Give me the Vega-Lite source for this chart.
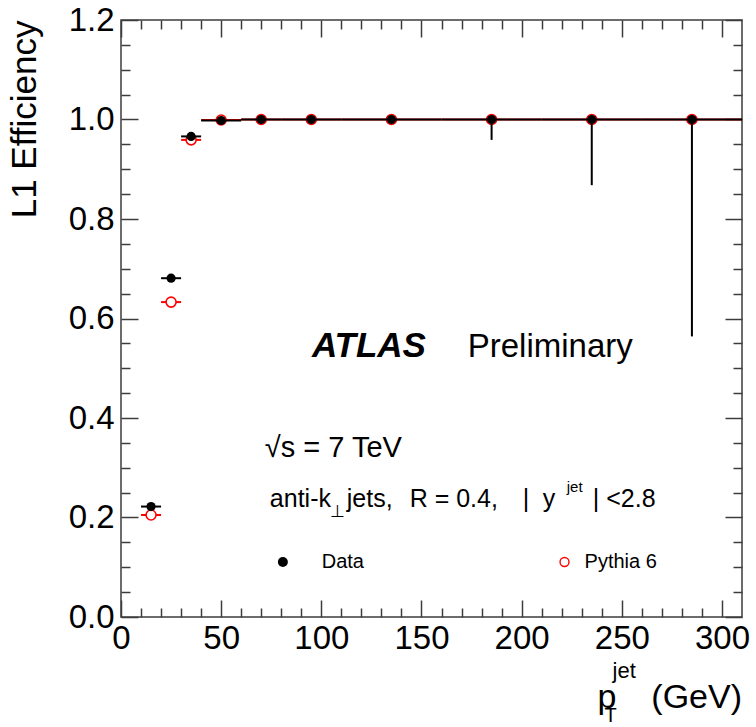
{
  "$schema": "https://vega.github.io/schema/vega-lite/v6.json",
  "width": 621,
  "height": 597,
  "autosize": "none",
  "padding": {"left": 121, "top": 20, "right": 14, "bottom": 110},
  "background": "white",
  "config": {
    "view": {"stroke": "#3c3c3c", "strokeWidth": 1.5},
    "axis": {"domain": false, "grid": false, "tickColor": "#3c3c3c", "tickWidth": 1.5, "labelFont": "Liberation Sans", "labelFontSize": 33, "labelColor": "black", "titleFont": "Liberation Sans", "titleColor": "black", "labelFlush": false, "labelOverlap": false},
    "text": {"font": "Liberation Sans", "color": "black"}
  },
  "datasets": {
    "eff": [
      {"pt": 15, "lo": 10, "hi": 20, "data": 0.222, "data_lo": 0.222, "pythia": 0.205},
      {"pt": 25, "lo": 20, "hi": 30, "data": 0.681, "data_lo": 0.681, "pythia": 0.633},
      {"pt": 35, "lo": 30, "hi": 40, "data": 0.966, "data_lo": 0.966, "pythia": 0.959},
      {"pt": 50, "lo": 40, "hi": 60, "data": 0.998, "data_lo": 0.998, "pythia": 0.999},
      {"pt": 70, "lo": 60, "hi": 80, "data": 1.0, "data_lo": 1.0, "pythia": 1.0},
      {"pt": 95, "lo": 80, "hi": 110, "data": 1.0, "data_lo": 1.0, "pythia": 1.0},
      {"pt": 135, "lo": 110, "hi": 160, "data": 1.0, "data_lo": 1.0, "pythia": 1.0},
      {"pt": 185, "lo": 160, "hi": 210, "data": 1.0, "data_lo": 0.959, "pythia": 1.0},
      {"pt": 235, "lo": 210, "hi": 260, "data": 1.0, "data_lo": 0.868, "pythia": 1.0},
      {"pt": 285, "lo": 260, "hi": 310, "data": 1.0, "data_lo": 0.564, "pythia": 1.0}
    ]
  },
  "data": {"name": "eff"},
  "resolve": {"axis": {"x": "independent", "y": "independent"}},
  "layer": [
    {
      "mark": {"type": "rule", "color": "red", "strokeWidth": 2},
      "encoding": {
        "x": {"field": "lo", "type": "quantitative", "scale": {"domain": [0, 310], "nice": false},
          "axis": {"orient": "bottom", "values": [0, 50, 100, 150, 200, 250, 300], "offset": -17, "tickSize": 17, "labelPadding": 5, "title": null}},
        "x2": {"field": "hi"},
        "y": {"field": "pythia", "type": "quantitative", "scale": {"domain": [0, 1.2], "nice": false},
          "axis": {"orient": "left", "values": [0, 0.2, 0.4, 0.6, 0.8, 1.0, 1.2], "offset": -17, "tickSize": 17, "labelPadding": 7, "format": ".1f",
            "title": "L1 Efficiency", "titleFontSize": 35, "titleFontWeight": "normal", "titleAnchor": "end", "titleX": -96, "titleBaseline": "bottom"}}
      }
    },
    {
      "mark": {"type": "point", "shape": "circle", "fill": "white", "stroke": "red", "strokeWidth": 1.6, "size": 100, "opacity": 1},
      "encoding": {
        "x": {"field": "pt", "type": "quantitative", "scale": {"domain": [0, 310], "nice": false},
          "axis": {"orient": "bottom", "values": [10, 20, 30, 40, 60, 70, 80, 90, 110, 120, 130, 140, 160, 170, 180, 190, 210, 220, 230, 240, 260, 270, 280, 290], "offset": -9, "tickSize": 9, "labels": false, "title": null}},
        "y": {"field": "pythia", "type": "quantitative", "scale": {"domain": [0, 1.2], "nice": false},
          "axis": {"orient": "left", "values": [0.05, 0.1, 0.15, 0.25, 0.3, 0.35, 0.45, 0.5, 0.55, 0.65, 0.7, 0.75, 0.85, 0.9, 0.95, 1.05, 1.1, 1.15], "offset": -9, "tickSize": 9, "labels": false, "title": null}}
      }
    },
    {
      "mark": {"type": "rule", "color": "black", "strokeWidth": 2},
      "encoding": {
        "x": {"field": "lo", "type": "quantitative", "scale": {"domain": [0, 310], "nice": false},
          "axis": {"orient": "top", "values": [0, 50, 100, 150, 200, 250, 300], "offset": -17, "tickSize": 17, "labels": false, "title": null}},
        "x2": {"field": "hi"},
        "y": {"field": "data", "type": "quantitative", "scale": {"domain": [0, 1.2], "nice": false},
          "axis": {"orient": "right", "values": [0, 0.2, 0.4, 0.6, 0.8, 1.0, 1.2], "offset": -17, "tickSize": 17, "labels": false, "title": null}}
      }
    },
    {
      "mark": {"type": "rule", "color": "black", "strokeWidth": 2},
      "encoding": {
        "x": {"field": "pt", "type": "quantitative", "scale": {"domain": [0, 310], "nice": false},
          "axis": {"orient": "top", "values": [10, 20, 30, 40, 60, 70, 80, 90, 110, 120, 130, 140, 160, 170, 180, 190, 210, 220, 230, 240, 260, 270, 280, 290], "offset": -9, "tickSize": 9, "labels": false, "title": null}},
        "y": {"field": "data", "type": "quantitative", "scale": {"domain": [0, 1.2], "nice": false},
          "axis": {"orient": "right", "values": [0.05, 0.1, 0.15, 0.25, 0.3, 0.35, 0.45, 0.5, 0.55, 0.65, 0.7, 0.75, 0.85, 0.9, 0.95, 1.05, 1.1, 1.15], "offset": -9, "tickSize": 9, "labels": false, "title": null}},
        "y2": {"field": "data_lo"}
      }
    },
    {
      "mark": {"type": "point", "shape": "circle", "filled": true, "color": "black", "size": 85, "opacity": 1},
      "encoding": {
        "x": {"field": "pt", "type": "quantitative", "scale": {"domain": [0, 310], "nice": false}, "axis": null},
        "y": {"field": "data", "type": "quantitative", "scale": {"domain": [0, 1.2], "nice": false}, "axis": null}
      }
    },
    {
      "data": {"values": [{}]},
      "mark": {"type": "text", "text": "ATLAS", "fontSize": 35, "fontWeight": "bold", "fontStyle": "italic", "align": "left", "baseline": "alphabetic"},
      "encoding": {"x": {"datum": 95.3, "type": "quantitative", "axis": null}, "y": {"datum": 0.5226, "type": "quantitative", "axis": null}}
    },
    {
      "data": {"values": [{}]},
      "mark": {"type": "text", "text": "Preliminary", "fontSize": 33, "align": "left", "baseline": "alphabetic"},
      "encoding": {"x": {"datum": 173.1, "type": "quantitative", "axis": null}, "y": {"datum": 0.5226, "type": "quantitative", "axis": null}}
    },
    {
      "data": {"values": [{}]},
      "mark": {"type": "text", "text": "√s = 7 TeV", "fontSize": 29, "align": "left", "baseline": "alphabetic"},
      "encoding": {"x": {"datum": 71.8, "type": "quantitative", "axis": null}, "y": {"datum": 0.3216, "type": "quantitative", "axis": null}}
    },
    {
      "data": {"values": [{}]},
      "mark": {"type": "text", "text": "anti-k", "fontSize": 25, "align": "left", "baseline": "alphabetic"},
      "encoding": {"x": {"datum": 74.3, "type": "quantitative", "axis": null}, "y": {"datum": 0.2205, "type": "quantitative", "axis": null}}
    },
    {
      "data": {"values": [{}]},
      "mark": {"type": "text", "text": "⊥", "fontSize": 17, "align": "left", "baseline": "alphabetic"},
      "encoding": {"x": {"datum": 104.2, "type": "quantitative", "axis": null}, "y": {"datum": 0.201, "type": "quantitative", "axis": null}}
    },
    {
      "data": {"values": [{}]},
      "mark": {"type": "text", "text": "jets,", "fontSize": 25, "align": "left", "baseline": "alphabetic"},
      "encoding": {"x": {"datum": 112.7, "type": "quantitative", "axis": null}, "y": {"datum": 0.2205, "type": "quantitative", "axis": null}}
    },
    {
      "data": {"values": [{}]},
      "mark": {"type": "text", "text": "R = 0.4,", "fontSize": 25, "align": "left", "baseline": "alphabetic"},
      "encoding": {"x": {"datum": 144.1, "type": "quantitative", "axis": null}, "y": {"datum": 0.2205, "type": "quantitative", "axis": null}}
    },
    {
      "data": {"values": [{}]},
      "mark": {"type": "text", "text": "|", "fontSize": 25, "align": "left", "baseline": "alphabetic"},
      "encoding": {"x": {"datum": 200.5, "type": "quantitative", "axis": null}, "y": {"datum": 0.2205, "type": "quantitative", "axis": null}}
    },
    {
      "data": {"values": [{}]},
      "mark": {"type": "text", "text": "y", "fontSize": 25, "align": "left", "baseline": "alphabetic"},
      "encoding": {"x": {"datum": 210.5, "type": "quantitative", "axis": null}, "y": {"datum": 0.2205, "type": "quantitative", "axis": null}}
    },
    {
      "data": {"values": [{}]},
      "mark": {"type": "text", "text": "jet", "fontSize": 15, "align": "left", "baseline": "alphabetic"},
      "encoding": {"x": {"datum": 222.5, "type": "quantitative", "axis": null}, "y": {"datum": 0.252, "type": "quantitative", "axis": null}}
    },
    {
      "data": {"values": [{}]},
      "mark": {"type": "text", "text": "| <2.8", "fontSize": 25, "align": "left", "baseline": "alphabetic"},
      "encoding": {"x": {"datum": 235.5, "type": "quantitative", "axis": null}, "y": {"datum": 0.2205, "type": "quantitative", "axis": null}}
    },
    {
      "data": {"values": [{}]},
      "mark": {"type": "point", "shape": "circle", "filled": true, "color": "black", "size": 100, "opacity": 1},
      "encoding": {"x": {"datum": 80.8, "type": "quantitative", "axis": null}, "y": {"datum": 0.1106, "type": "quantitative", "axis": null}}
    },
    {
      "data": {"values": [{}]},
      "mark": {"type": "point", "shape": "circle", "fill": "white", "stroke": "red", "strokeWidth": 1.4, "size": 80, "opacity": 1},
      "encoding": {"x": {"datum": 221.4, "type": "quantitative", "axis": null}, "y": {"datum": 0.1106, "type": "quantitative", "axis": null}}
    },
    {
      "data": {"values": [{}]},
      "mark": {"type": "text", "text": "Data", "fontSize": 20, "align": "left", "baseline": "alphabetic"},
      "encoding": {"x": {"datum": 100.2, "type": "quantitative", "axis": null}, "y": {"datum": 0.0978, "type": "quantitative", "axis": null}}
    },
    {
      "data": {"values": [{}]},
      "mark": {"type": "text", "text": "Pythia 6", "fontSize": 20, "align": "left", "baseline": "alphabetic"},
      "encoding": {"x": {"datum": 231.4, "type": "quantitative", "axis": null}, "y": {"datum": 0.0978, "type": "quantitative", "axis": null}}
    },
    {
      "data": {"values": [{}]},
      "mark": {"type": "text", "text": "p", "fontSize": 34, "align": "left", "baseline": "alphabetic"},
      "encoding": {"x": {"datum": 237.9, "type": "quantitative", "axis": null}, "y": {"datum": -0.183, "type": "quantitative", "axis": null}}
    },
    {
      "data": {"values": [{}]},
      "mark": {"type": "text", "text": "T", "fontSize": 20, "align": "left", "baseline": "alphabetic"},
      "encoding": {"x": {"datum": 241.4, "type": "quantitative", "axis": null}, "y": {"datum": -0.212, "type": "quantitative", "axis": null}}
    },
    {
      "data": {"values": [{}]},
      "mark": {"type": "text", "text": "jet", "fontSize": 22, "align": "left", "baseline": "alphabetic"},
      "encoding": {"x": {"datum": 245.4, "type": "quantitative", "axis": null}, "y": {"datum": -0.122, "type": "quantitative", "axis": null}}
    },
    {
      "data": {"values": [{}]},
      "mark": {"type": "text", "text": "(GeV)", "fontSize": 34, "align": "right", "baseline": "alphabetic"},
      "encoding": {"x": {"datum": 310, "type": "quantitative", "axis": null}, "y": {"datum": -0.183, "type": "quantitative", "axis": null}}
    }
  ]
}
